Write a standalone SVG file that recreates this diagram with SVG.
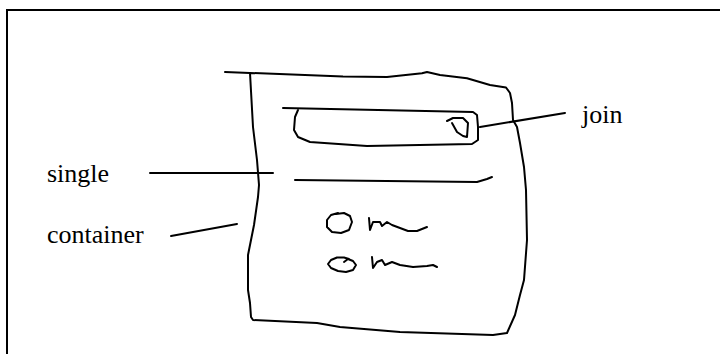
<svg xmlns="http://www.w3.org/2000/svg" width="720" height="354" viewBox="0 0 720 354">
<style>
.ink{fill:none;stroke:#000;stroke-width:2;stroke-linecap:round;stroke-linejoin:round}
.lbl{font-size:26px;fill:#000}
</style>
<rect x="0" y="0" width="720" height="354" fill="#fff"/>
<path d="M7,355 L7,10 L721,10" fill="none" stroke="#000" stroke-width="2"/>
<g id="container">
<path class="ink" d="M225,72 L343,76.5 L387,77 L422,73.3 L427,72 L440,75 L467,78.3 L490,85 L506,87.5 L510,93 L512,103 L513,120 L517,127 L520,143 L524,167 L526,190 L527,240 L524,280 L520,295 L515,315 L507,333 L493,335 L400,332 L340,327 L317,323 L253,320 L251,317 L250,303 L248,290 L248,255 L250,245 L254,225 L258,197 L259,185 L257,160 L253,127 L250,73"/>
</g>
<g id="join-box">
<path class="ink" d="M283,108 L473,112 L477,115 L478,127 L478,140 L472,144 L367,146 L310,142 L298,137 L294,130 L295,117 L298,110"/>
<path class="ink" d="M447,121 L453,118 L463,118 L468,123 L467,137 L463,136 L457,132 L452,123"/>
</g>
<g id="single-line">
<path class="ink" d="M295,180 L477,182 L487,179 L492,177"/>
</g>
<g id="radio-1">
<path class="ink" d="M336,214 L344,213 L350,216 L352,222 L349,230 L341,233 L332,232 L327,227 L327,220 L331,215 L338,213"/>
<path class="ink" d="M369,218 L370,230 L373,222 L380,222 L382,226 L387,222 L392,225 L400,228 L408,231 L417,231 L427,227"/>
</g>
<g id="radio-2">
<path class="ink" d="M344,262 L348,259 L353,261 L356,265 L353,270 L346,272 L338,271 L331,268 L328,264 L331,260 L337,257.5 L344,257.5 L349,259"/>
<path class="ink" d="M372,257 L373,268 L377,262 L382,260 L385,265 L392,262 L400,265 L413,267 L427,266 L433,265 L437,267"/>
</g>
<g id="connectors">
<line class="ink" x1="480" y1="127" x2="565" y2="113"/>
<line class="ink" x1="150" y1="173" x2="273" y2="173"/>
<line class="ink" x1="171" y1="236" x2="237" y2="224"/>
</g>
<g id="labels" font-family="'Liberation Serif', 'Times New Roman', serif">
<text class="lbl" x="582" y="123">join</text>
<text class="lbl" x="47" y="182">single</text>
<text class="lbl" x="47" y="243">container</text>
</g>
</svg>
